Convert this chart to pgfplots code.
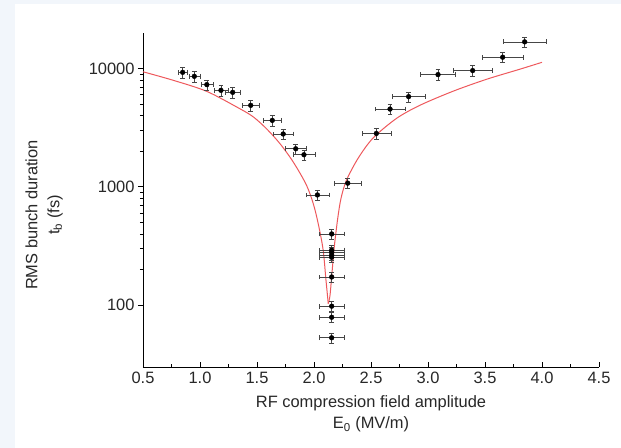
\documentclass[border=0pt]{standalone}
\usepackage{pgfplots}
\pgfplotsset{compat=1.18}
\usepackage{fontspec}
\setmainfont{Liberation Sans}
\pgfdeclarelayer{background}
\pgfsetlayers{background,main}
\definecolor{fitred}{RGB}{238,88,92}
\definecolor{txt}{RGB}{40,40,40}
\definecolor{bgstrip}{RGB}{242,246,251}
\definecolor{errc}{RGB}{70,70,70}
\begin{document}
\begin{tikzpicture}
\begin{axis}[
  scale only axis, width=456bp, height=334bp,
  xmin=0.5, xmax=4.5, ymode=log, ymin=30, ymax=20000,
  axis lines=left, axis line style={-, line width=0.9pt, black},
  xtick={0.5,1,1.5,2,2.5,3,3.5,4,4.5},
  xticklabels={0.5,1.0,1.5,2.0,2.5,3.0,3.5,4.0,4.5},
  minor x tick num=1,
  ytick={100,1000,10000}, yticklabels={100,1000,10000},
  xtick align=inside, ytick align=outside,
  major tick length=5bp, minor tick length=3bp,
  tick style={line width=0.8pt, black},
  /pgf/number format/assume math mode=true,
  tick label style={font=\fontsize{16.5}{19}\selectfont, text=txt},
  x tick label style={yshift=-2bp},
  label style={font=\fontsize{16.5}{22}\selectfont, text=txt, align=center},
  xlabel={RF compression field amplitude\\E\textsubscript{0} (MV/m)},
  ylabel={RMS bunch duration\\t\textsubscript{b} (fs)},
  xlabel style={at={(axis description cs:0.5,-0.14)}, anchor=center},
  ylabel style={at={(axis description cs:-0.217,0.455)}, anchor=center},
]
\addplot[fitred, line width=1pt, smooth] coordinates {
  (0.5,9400) (0.766,7960) (1.059,6420) (1.351,4570) (1.47,3890)
  (1.585,3090) (1.702,2317) (1.818,1622) (1.936,1023) (2.009,638)
  (2.076,312) (2.105,163) (2.125,103)};
\addplot[fitred, line width=1pt, smooth] coordinates {
  (2.125,103) (2.140,120) (2.155,174) (2.178,312) (2.208,540)
  (2.237,800) (2.285,1140) (2.389,1758) (2.520,2600) (2.725,3800)
  (2.93,4900) (3.222,6450) (3.515,8130) (3.807,9890) (4.0,11300)};
\addplot[only marks, mark=*, mark size=2.4pt, black,
  error bars/.cd, x dir=both, x fixed relative=0.05,
  y dir=both, y fixed relative=0.1,
  error bar style={line width=0.6pt, errc}] coordinates {
  (0.848,9300) (0.95,8600) (1.06,7320) (1.184,6550) (1.287,6300)
  (1.445,4890) (1.634,3650) (1.73,2800) (1.84,2100) (1.912,1870)
  (2.03,855) (2.155,400) (2.155,292) (2.155,280) (2.155,265)
  (2.155,254) (2.155,173) (2.155,98) (2.155,79) (2.155,53)
  (2.296,1075) (2.547,2830) (2.667,4550) (2.83,5790) (3.088,8900)
  (3.392,9620) (3.655,12480) (3.848,16830)};
\end{axis}
\begin{pgfonlayer}{background}
\fill[bgstrip] (current axis.south west) ++(-143bp,-81bp) rectangle ++(621bp,448bp);
\fill[white] (current axis.south west) ++(-128bp,-81bp) rectangle ++(606bp,444bp);
\end{pgfonlayer}
\end{tikzpicture}
\end{document}
